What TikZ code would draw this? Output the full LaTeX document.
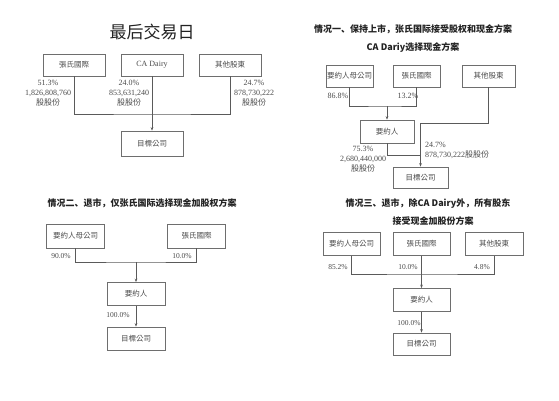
\documentclass[tikz,border=0pt]{standalone}
\usepackage{fontspec}
\setmainfont{Liberation Serif}
\newfontfamily\heiti{Noto Sans CJK SC}
\newfontfamily\mingti{Noto Sans CJK TC}
\usetikzlibrary{arrows.meta}
\definecolor{boxc}{HTML}{6E6E6E}
\definecolor{linec}{HTML}{5A5A5A}
\definecolor{txtc}{HTML}{4A4A4A}
\definecolor{titc}{HTML}{222222}
\tikzset{
  bx/.style={draw=boxc, line width=0.7pt, inner sep=0pt, text=txtc,
    font=\mingti\fontsize{7.5}{9}\selectfont},
  conn/.style={draw=linec, line width=0.7pt},
  arr/.style={conn, -{Stealth[length=3.5pt,width=2.6pt]}},
  lbl/.style={inner sep=0pt, text=txtc, align=center,
    font=\fontsize{8}{10}\selectfont},
  ttl/.style={inner sep=0pt, text=titc, font=\heiti\bfseries\fontsize{9}{11}\selectfont},
}
\begin{document}
\begin{tikzpicture}[x=1pt,y=-1pt]
\useasboundingbox (0,0) rectangle (559,400);

% ---------------- Panel 1
\node[inner sep=0pt, text=titc, font=\heiti\fontsize{17}{20}\selectfont] (t1) at (152,32) {最后交易日};
\node[bx, minimum width=62pt, minimum height=22pt] (p1a) at (74,65) {張氏國際};
\node[bx, minimum width=62pt, minimum height=22pt, font=\rmfamily\fontsize{8}{9}\selectfont] (p1b) at (152,65) {CA Dairy};
\node[bx, minimum width=62pt, minimum height=22pt] (p1c) at (230,65) {其他股東};
\node[bx, minimum width=62pt, minimum height=25pt] (p1t) at (152,143.5) {目標公司};
\coordinate (p1j) at (152,114);
\draw[conn] (p1a.south) |- (p1j) -| (p1c.south);
\draw[arr] (p1b.south) -- (p1t.north);
\node[lbl] (l1a) at (48,93) {51.3\%\\1,826,808,760\\{\mingti 股股份}};
\node[lbl] (l1b) at (129,93) {24.0\%\\853,631,240\\{\mingti 股股份}};
\node[lbl] (l1c) at (254,93) {24.7\%\\878,730,222\\{\mingti 股股份}};

% ---------------- Panel 2
\node[ttl] (t2a) at (413,29) {情况一、保持上市，张氏国际接受股权和现金方案};
\node[ttl] (t2b) at (413,48) {CA Dariy选择现金方案};
\node[bx, minimum width=47pt, minimum height=22pt] (p2a) at (349.5,76) {要約人母公司};
\node[bx, minimum width=47pt, minimum height=22pt] (p2b) at (416.5,76) {張氏國際};
\node[bx, minimum width=53pt, minimum height=22pt] (p2c) at (488.5,76) {其他股東};
\node[bx, minimum width=54pt, minimum height=23pt] (p2m) at (387,131.5) {要約人};
\node[bx, minimum width=55pt, minimum height=21pt] (p2t) at (420.5,177.5) {目標公司};
\coordinate (p2j1) at (387,106);
\coordinate (p2j2) at (p2t.north |- 0,123);
\coordinate (p2j3) at (p2t.north |- 0,155);
\draw[conn] (p2a.south) |- (p2j1) -| (p2b.south);
\draw[arr] (p2j1) -- (p2m.north);
\draw[conn] (p2c.south) |- (p2j2);
\draw[arr] (p2j2) -- (p2t.north);
\draw[conn] (p2m.south) |- (p2j3);
\node[lbl] (l2a) at (338,96) {86.8\%};
\node[lbl] (l2b) at (408,96) {13.2\%};
\node[lbl] (l2c) at (363,159) {75.3\%\\2,680,440,000\\{\mingti 股股份}};
\node[lbl, anchor=west, align=left] (l2d) at (425,150) {24.7\%\\878,730,222{\mingti 股股份}};

% ---------------- Panel 3
\node[ttl] (t3) at (142,203) {情况二、退市，仅张氏国际选择现金加股权方案};
\node[bx, minimum width=58pt, minimum height=24pt] (p3a) at (75.5,236) {要約人母公司};
\node[bx, minimum width=58pt, minimum height=24pt] (p3b) at (196.5,236) {張氏國際};
\node[bx, minimum width=58pt, minimum height=23pt] (p3m) at (136,294) {要約人};
\node[bx, minimum width=58pt, minimum height=23pt] (p3t) at (136,338.5) {目標公司};
\coordinate (p3j) at (136,262);
\draw[conn] (p3a.south) |- (p3j) -| (p3b.south);
\draw[arr] (p3j) -- (p3m.north);
\draw[arr] (p3m.south) -- (p3t.north);
\node[lbl, font=\fontsize{7.5}{9}\selectfont] (l3a) at (61,256) {90.0\%};
\node[lbl, font=\fontsize{7.5}{9}\selectfont] (l3b) at (182,256) {10.0\%};
\node[lbl, font=\fontsize{7.5}{9}\selectfont] (l3c) at (118,315) {100.0\%};

% ---------------- Panel 4
\node[ttl] (t4a) at (428,204) {情况三、退市，除CA Dairy外，所有股东};
\node[ttl] (t4b) at (433,221) {接受现金加股份方案};
\node[bx, minimum width=57pt, minimum height=23pt] (p4a) at (351.5,244) {要約人母公司};
\node[bx, minimum width=57pt, minimum height=23pt] (p4b) at (421.5,244) {張氏國際};
\node[bx, minimum width=58pt, minimum height=23pt] (p4c) at (494,244) {其他股東};
\node[bx, minimum width=57pt, minimum height=23pt] (p4m) at (421.5,300) {要約人};
\node[bx, minimum width=57pt, minimum height=22pt] (p4t) at (421.5,344) {目標公司};
\coordinate (p4j) at (421.5,274);
\draw[conn] (p4a.south) |- (p4j) -| (p4c.south);
\draw[arr] (p4b.south) -- (p4m.north);
\draw[arr] (p4m.south) -- (p4t.north);
\node[lbl, font=\fontsize{7.5}{9}\selectfont] (l4a) at (338,267) {85.2\%};
\node[lbl, font=\fontsize{7.5}{9}\selectfont] (l4b) at (408,267) {10.0\%};
\node[lbl, font=\fontsize{7.5}{9}\selectfont] (l4c) at (482,267) {4.8\%};
\node[lbl, font=\fontsize{7.5}{9}\selectfont] (l4d) at (409,323) {100.0\%};
\end{tikzpicture}
\end{document}
